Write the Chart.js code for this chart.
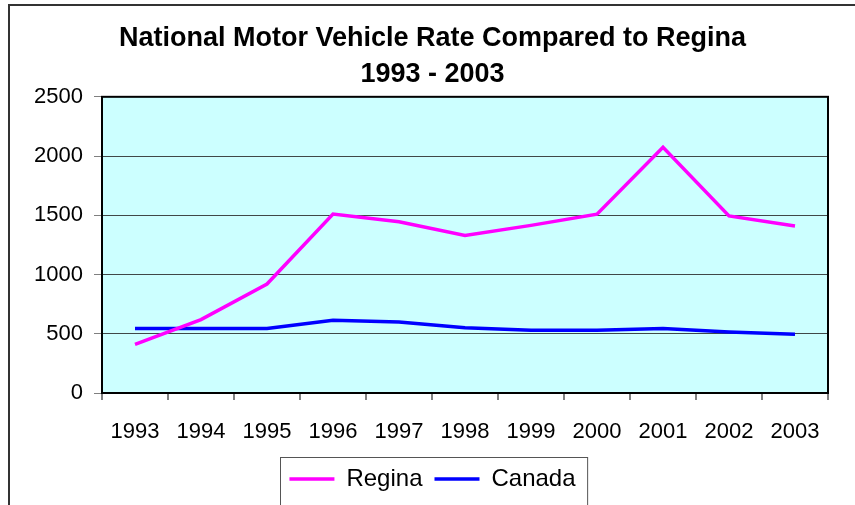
<!DOCTYPE html>
<html>
<head>
<meta charset="utf-8">
<script src="https://cdn.jsdelivr.net/npm/chart.js@4"></script>
<style>
    body { margin: 0; background: #ffffff; }
    #myChart { display: block; }
</style>
</head>
<body>
<canvas id="myChart" width="855" height="505"></canvas>
<script>
(function() {
    'use strict';

    var years = ['1993', '1994', '1995', '1996', '1997', '1998', '1999', '2000', '2001', '2002', '2003'];
    var regina = [410, 620, 920, 1510, 1445, 1330, 1415, 1510, 2075, 1495, 1410];
    var canada = [545, 545, 545, 615, 600, 550, 530, 530, 545, 515, 495];
    var titleLines = ['National Motor Vehicle Rate Compared to Regina', '1993 - 2003'];

    var fontName = '"Liberation Sans", Arial, sans-serif';

    //outer frame, plot background and plot border
    var framePlugin = {
        id: 'frame',
        beforeDraw: function(chart) {
            var c = chart.ctx;
            var a = chart.chartArea;
            c.save();
            c.strokeStyle = '#333333';
            c.lineWidth = 2;
            c.beginPath();
            c.moveTo(9, 520);
            c.lineTo(9, 5);
            c.lineTo(870, 5);
            c.stroke();
            c.fillStyle = '#ccffff';
            c.fillRect(a.left, a.top, a.right - a.left, a.bottom - a.top);
            c.restore();
        },
        afterDatasetsDraw: function(chart) {
            var c = chart.ctx;
            var a = chart.chartArea;
            c.save();
            c.strokeStyle = '#000000';
            c.lineWidth = 2;
            c.strokeRect(a.left, a.top, a.right - a.left, a.bottom - a.top);
            c.restore();
        },
        afterDraw: function(chart) {
            //box around the legend
            var boxes = chart.legend.legendHitBoxes;
            if (!boxes || !boxes.length) return;
            var left = boxes[0].left;
            var right = boxes[boxes.length - 1].left + boxes[boxes.length - 1].width;
            var mid = boxes[0].top + boxes[0].height / 2;
            var c = chart.ctx;
            c.save();
            c.strokeStyle = '#555555';
            c.lineWidth = 1;
            c.strokeRect(Math.round(left - 9) + 0.5, Math.round(mid - 22) + 0.5, right - left + 21, 80);
            c.restore();
        }
    };

    var ctx = document.getElementById('myChart');
    var chart = new Chart(ctx, {
        type: 'line',
        data: {
            labels: years,
            datasets: [{
                label: 'Regina',
                data: regina,
                borderColor: '#ff00ff',
                backgroundColor: '#ff00ff',
                borderWidth: 3.5,
                pointRadius: 0,
                tension: 0,
                fill: false
            },
            {
                label: 'Canada',
                data: canada,
                borderColor: '#0000ff',
                backgroundColor: '#0000ff',
                borderWidth: 3.5,
                pointRadius: 0,
                tension: 0,
                fill: false
            }]
        },
        options: {
            responsive: false,
            animation: false,
            layout: { padding: { left: 10, right: 0, top: 0, bottom: 4 } },
            plugins: {
                title: {
                    display: true,
                    text: titleLines,
                    color: '#000000',
                    font: { family: fontName, size: 27, weight: 'bold', lineHeight: 1.33 },
                    padding: { top: 21, bottom: 4 }
                },
                legend: {
                    position: 'bottom',
                    labels: {
                        color: '#000000',
                        font: { family: fontName, size: 24 },
                        boxWidth: 45,
                        boxHeight: 0,
                        padding: 12
                    }
                },
                tooltip: { enabled: false }
            },
            scales: {
                x: {
                    offset: true,
                    grid: {
                        offset: true,
                        drawOnChartArea: false,
                        tickLength: 7,
                        tickColor: '#808080',
                        lineWidth: 2
                    },
                    border: { display: false },
                    ticks: {
                        color: '#000000',
                        font: { family: fontName, size: 22 },
                        padding: 19,
                        maxRotation: 0
                    },
                    afterFit: function(scale) { scale.height = 62; }
                },
                y: {
                    min: 0,
                    max: 2500,
                    grid: {
                        color: '#404848',
                        lineWidth: 1,
                        tickLength: 8,
                        tickColor: '#808080'
                    },
                    border: { display: false },
                    ticks: {
                        stepSize: 500,
                        color: '#000000',
                        font: { family: fontName, size: 22 },
                        padding: 11,
                        callback: function(value) { return String(value); }
                    },
                    afterFit: function(scale) { scale.width = 92; }
                },
                right: {
                    position: 'right',
                    display: true,
                    grid: { display: false },
                    border: { display: false },
                    ticks: { display: false },
                    afterFit: function(scale) { scale.width = 27; }
                }
            }
        },
        plugins: [framePlugin]
    });
})();
</script>
</body>
</html>
